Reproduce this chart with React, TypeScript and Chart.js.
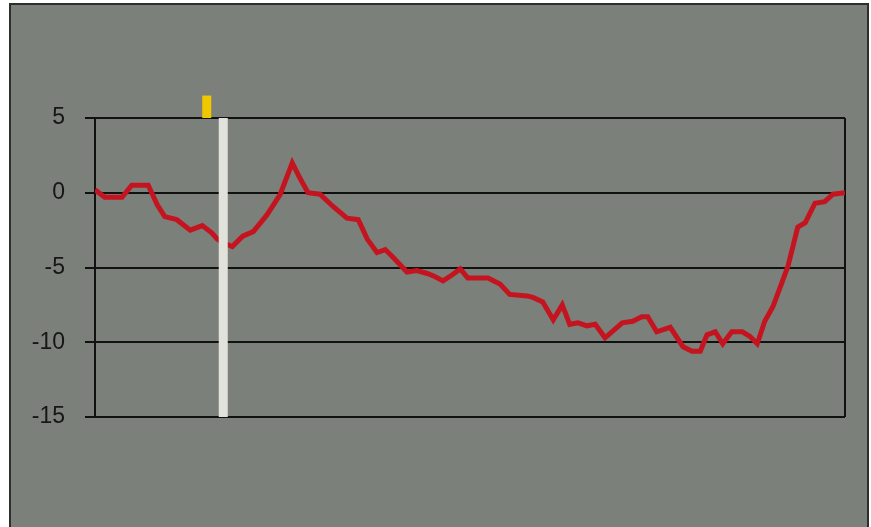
import React, { useEffect, useRef } from "react";
import { Chart, registerables } from "chart.js";

Chart.register(...registerables);

// Time steps (horizontal position along the series, 0..100)
const steps: number[] = [
  0, 1.3, 3.6, 4.9, 7.1, 8.3, 9.3, 10.9, 12.7, 14.3, 15.6, 16.3, 17.3, 18.3,
  19.7, 21.1, 22.9, 24.7, 26.3, 27.3, 28.4, 30, 31.7, 33.6, 35.1, 36.3, 37.6,
  38.7, 39.7, 41.6, 42.9, 44.3, 45.3, 46.4, 47.6, 48.7, 49.7, 52.4, 54, 55.3,
  57.6, 58.4, 59.7, 61.1, 62.3, 63.3, 64.4, 65.6, 66.7, 68, 70.3, 71.7, 72.9,
  73.7, 74.9, 76.7, 78.4, 79.6, 80.7, 81.6, 82.7, 83.7, 84.9, 86.3, 87.3,
  88.3, 89.3, 90.4, 91.6, 92.4, 93.3, 93.7, 94.7, 96, 97.3, 98.4, 100,
];

// Series values
const values: number[] = [
  0.2, -0.3, -0.3, 0.5, 0.5, -0.8, -1.6, -1.8, -2.5, -2.2, -2.7, -3.1, -3.4,
  -3.6, -2.9, -2.6, -1.5, -0.1, 2.0, 1.0, 0, -0.1, -0.9, -1.7, -1.8, -3.1,
  -4.0, -3.8, -4.3, -5.3, -5.2, -5.4, -5.6, -5.9, -5.5, -5.1, -5.7, -5.7,
  -6.1, -6.8, -6.9, -7.0, -7.3, -8.5, -7.5, -8.8, -8.7, -8.9, -8.8, -9.7,
  -8.7, -8.6, -8.3, -8.3, -9.3, -9.0, -10.3, -10.6, -10.6, -9.5, -9.3, -10.1,
  -9.3, -9.3, -9.6, -10.1, -8.6, -7.6, -6.0, -4.9, -3.1, -2.3, -2.0, -0.7,
  -0.6, -0.1, 0,
];

// Marker positions
const currentStep = 17.1;
const flagStep = 14.9;
const flagRange: number[] = [5, 6.5];

// Axis
const yTicks: number[] = [5, 0, -5, -10, -15];
const yMin = -15;
const yMax = 5;

export default function App() {
  const canvasRef = useRef<HTMLCanvasElement | null>(null);

  useEffect(() => {
    if (!canvasRef.current) return;
    const chart = new Chart(canvasRef.current, {
      type: "line",
      data: {
        datasets: [
          {
            label: "current",
            data: [
              { x: currentStep, y: yMin },
              { x: currentStep, y: yMax },
            ],
            borderColor: "#e2e2dc",
            borderWidth: 9,
            borderCapStyle: "butt",
            pointRadius: 0,
            clip: false as any,
          },
          {
            label: "flag",
            data: [
              { x: flagStep, y: flagRange[0] },
              { x: flagStep, y: flagRange[1] },
            ],
            borderColor: "#f0c800",
            borderWidth: 9,
            borderCapStyle: "butt",
            pointRadius: 0,
            clip: false as any,
          },
          {
            label: "series",
            data: steps.map((s, i) => ({ x: s, y: values[i] })),
            borderColor: "#c41420",
            borderWidth: 5,
            pointRadius: 0,
            tension: 0,
            borderJoinStyle: "miter",
          },
        ],
      },
      options: {
        animation: false,
        responsive: true,
        maintainAspectRatio: false,
        events: [],
        layout: { padding: { top: 118, right: 26, bottom: 110, left: 0 } },
        plugins: {
          legend: { display: false },
          tooltip: { enabled: false },
          title: { display: false },
        },
        scales: {
          x: {
            type: "linear",
            min: 0,
            max: 100,
            ticks: { display: false, stepSize: 50 },
            grid: {
              drawTicks: false,
              lineWidth: 2,
              color: (ctx: any) =>
                ctx.tick && ctx.tick.value === 100 ? "#111111" : "rgba(0,0,0,0)",
            },
            border: { display: false },
            afterFit: (scale: any) => {
              scale.height = 0;
            },
          },
          y: {
            type: "linear",
            min: yMin,
            max: yMax,
            afterBuildTicks: (scale: any) => {
              scale.ticks = yTicks.map((v) => ({ value: v }));
            },
            ticks: {
              color: "#161616",
              padding: 20,
              font: { family: "'Liberation Sans', Arial, sans-serif", size: 23 },
            },
            grid: {
              color: "#111111",
              lineWidth: 2,
              tickLength: 10,
              drawTicks: true,
            },
            border: { display: true, color: "#111111", width: 2 },
            afterFit: (scale: any) => {
              scale.width = 95;
            },
          },
        },
      },
    });
    return () => chart.destroy();
  }, []);

  return (
    <div
      style={{
        position: "fixed",
        left: 0,
        top: 0,
        width: 871,
        height: 527,
        background: "#ffffff",
        overflow: "hidden",
      }}
    >
      <div
        style={{
          position: "absolute",
          left: 9,
          top: 3,
          width: 860,
          height: 600,
          boxSizing: "border-box",
          border: "2px solid #2e2e2e",
          background: "#7c807a",
        }}
      />
      <div style={{ position: "absolute", left: 0, top: 0, width: 871, height: 527 }}>
        <canvas ref={canvasRef} />
      </div>
    </div>
  );
}
